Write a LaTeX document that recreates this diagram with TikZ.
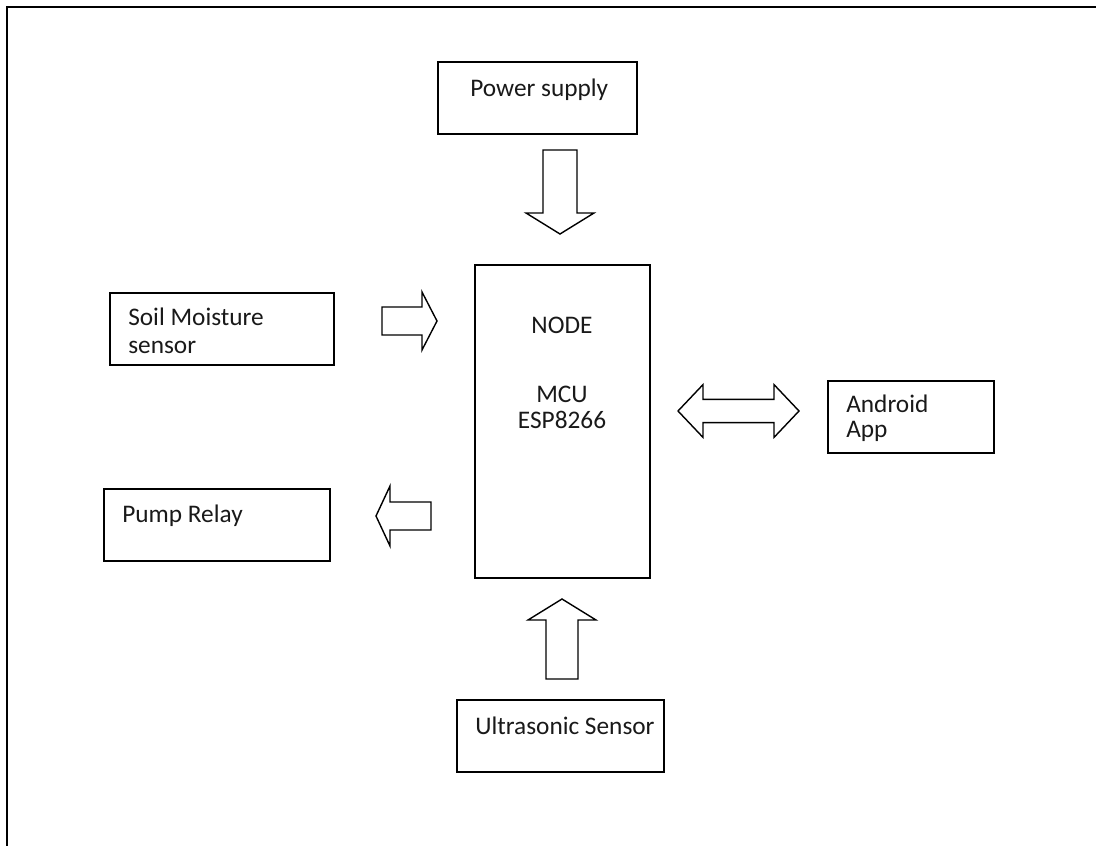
\documentclass[tikz,border=0pt]{standalone}
\usepackage{fontspec}
\setmainfont{Carlito}
\usepackage{tikz}
\usetikzlibrary{calc}

\tikzset{
  block/.style={draw, line width=1.3pt, inner sep=0pt},
  boxtext/.style={inner sep=0pt, anchor=base west, text=black!90, font=\fontsize{18}{20}\selectfont},
  midtext/.style={boxtext, anchor=base},
  arrowbody/.style={draw, line width=1pt, line join=miter},
  frame/.style={draw, line width=2pt}
}

% hollow block arrow: start, tip, shaft half width, head half width, head length
\newcommand{\blockarrow}[5]{%
  \coordinate (ba-h) at ($(#2)!#5!(#1)$);
  \draw[arrowbody] ($(#1)!#3!90:(#2)$) -- ($(ba-h)!#3!90:(#2)$) -- ($(ba-h)!#4!90:(#2)$)
    -- (#2) -- ($(ba-h)!#4!-90:(#2)$) -- ($(ba-h)!#3!-90:(#2)$) -- ($(#1)!#3!-90:(#2)$) -- cycle;}

% hollow double arrow: tip, tip, shaft half width, head half width, head length
\newcommand{\dblarrow}[5]{%
  \coordinate (da-l) at ($(#1)!#5!(#2)$);
  \coordinate (da-r) at ($(#2)!#5!(#1)$);
  \draw[arrowbody] (#1) -- ($(da-l)!#4!90:(#2)$) -- ($(da-l)!#3!90:(#2)$) -- ($(da-r)!#3!90:(#2)$)
    -- ($(da-r)!#4!90:(#2)$) -- (#2) -- ($(da-r)!#4!-90:(#2)$) -- ($(da-r)!#3!-90:(#2)$)
    -- ($(da-l)!#3!-90:(#2)$) -- ($(da-l)!#4!-90:(#2)$) -- cycle;}

\begin{document}
\begin{tikzpicture}[x=0.025cm, y=-0.025cm]
\useasboundingbox (0,0) rectangle (1096,846);
\coordinate (fr-bl) at (7,846);
\coordinate (fr-tl) at (7,7);
\coordinate (fr-tr) at (1096,7);
\draw[frame] (fr-bl) -- (fr-tl) -- (fr-tr);
%
\node[block, minimum width=4.975cm, minimum height=1.8cm](power) at (537.5,98) {};
\node[boxtext](power-t) at (470,97) {Power supply};
%
\node[block, minimum width=4.375cm, minimum height=7.825cm](mcu) at (562.5,421.5) {};
\node[midtext](mcu-t1) at (562,333) {NODE};
\node[midtext](mcu-t2) at (562,402) {MCU};
\node[midtext](mcu-t3) at (562,428) {ESP8266};
%
\node[block, minimum width=5.6cm, minimum height=1.8cm](soil) at (222,329) {};
\node[boxtext](soil-t1) at (128,325) {Soil Moisture};
\node[boxtext](soil-t2) at (128,353) {sensor};
%
\node[block, minimum width=5.65cm, minimum height=1.8cm](pump) at (217,525) {};
\node[boxtext](pump-t) at (122,522) {Pump Relay};
%
\node[block, minimum width=4.15cm, minimum height=1.8cm](android) at (911,417) {};
\node[boxtext](android-t1) at (846,412) {Android};
\node[boxtext](android-t2) at (846,437) {App};
%
\node[block, minimum width=5.175cm, minimum height=1.8cm](ultra) at (560.5,736) {};
\node[boxtext](ultra-t) at (475,734) {Ultrasonic Sensor};
%
\coordinate (ps-s) at (560,150);
\coordinate (ps-e) at (560,234);
\blockarrow{ps-s}{ps-e}{0.425cm}{0.85cm}{0.525cm}
%
\coordinate (sm-s) at (382,321);
\coordinate (sm-e) at (437,321);
\blockarrow{sm-s}{sm-e}{0.35cm}{0.725cm}{0.375cm}
%
\coordinate (pr-s) at (431,516);
\coordinate (pr-e) at (376,516);
\blockarrow{pr-s}{pr-e}{0.35cm}{0.75cm}{0.35cm}
%
\coordinate (aa-l) at (678,411);
\coordinate (aa-r) at (799,411);
\dblarrow{aa-l}{aa-r}{0.29cm}{0.66cm}{0.625cm}
%
\coordinate (us-s) at (562,679);
\coordinate (us-e) at (562,599);
\blockarrow{us-s}{us-e}{0.4cm}{0.85cm}{0.525cm}
\end{tikzpicture}
\end{document}
